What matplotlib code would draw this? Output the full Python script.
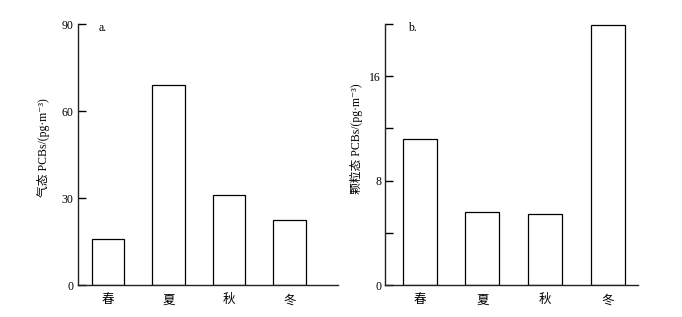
import matplotlib
matplotlib.use("Agg")
import matplotlib.pyplot as plt

# data
seasons = ["春", "夏", "秋", "冬"]
gas_pcbs = [16.0, 69.0, 31.0, 22.5]        # 气态 PCBs, pg/m3
particle_pcbs = [11.2, 5.6, 5.45, 19.9]    # 颗粒态 PCBs, pg/m3

gas_ticks = [0, 30, 60, 90]
particle_ticks = [0, 4, 8, 12, 16, 20]
particle_ticklabels = ["0", "", "8", "", "16", ""]

serif = ["Liberation Serif", "Noto Sans CJK SC", "DejaVu Serif"]
plt.rcParams["font.family"] = serif

fig = plt.figure(figsize=(6.82, 3.17), dpi=100)
ax1 = fig.add_axes([0.1139, 0.1009, 0.3817, 0.8233])
ax2 = fig.add_axes([0.565, 0.1009, 0.3701, 0.8233])


def style(ax):
    for s in ["top", "right"]:
        ax.spines[s].set_visible(False)
    for s in ["left", "bottom"]:
        ax.spines[s].set_linewidth(1.0)
        ax.spines[s].set_color("#222222")
    ax.tick_params(axis="y", direction="in", length=6, width=1.0,
                   labelsize=8.5, pad=3)
    ax.tick_params(axis="x", length=0, labelsize=9, pad=6)
    for lab in ax.get_xticklabels():
        lab.set_family(["Noto Sans CJK SC"])


x = range(len(seasons))

ax1.bar(x, gas_pcbs, width=0.54, color="white", edgecolor="black", linewidth=0.9)
ax1.set_xlim(-0.5, 3.8)
ax1.set_ylim(0, 90)
ax1.set_yticks(gas_ticks)
ax1.set_xticks(list(x))
ax1.set_xticklabels(seasons)
style(ax1)
ax1.text(0.08, 0.985, "a.", transform=ax1.transAxes, fontsize=8.5,
         ha="left", va="center")
ax1.text(-0.133, 0.525, "气态 PCBs/(pg·m⁻³)", transform=ax1.transAxes,
         rotation=90, ha="center", va="center", fontsize=8.5, family=serif)

ax2.bar(x, particle_pcbs, width=0.54, color="white", edgecolor="black", linewidth=0.9)
ax2.set_xlim(-0.55, 3.48)
ax2.set_ylim(0, 20)
ax2.set_yticks(particle_ticks)
ax2.set_yticklabels(particle_ticklabels)
ax2.set_xticks(list(x))
ax2.set_xticklabels(seasons)
style(ax2)
ax2.text(0.089, 0.985, "b.", transform=ax2.transAxes, fontsize=8.5,
         ha="left", va="center")
ax2.text(-0.116, 0.562, "颗粒态 PCBs/(pg·m⁻³)", transform=ax2.transAxes,
         rotation=90, ha="center", va="center", fontsize=8.5, family=serif)

fig.savefig("out.png", dpi=100)
